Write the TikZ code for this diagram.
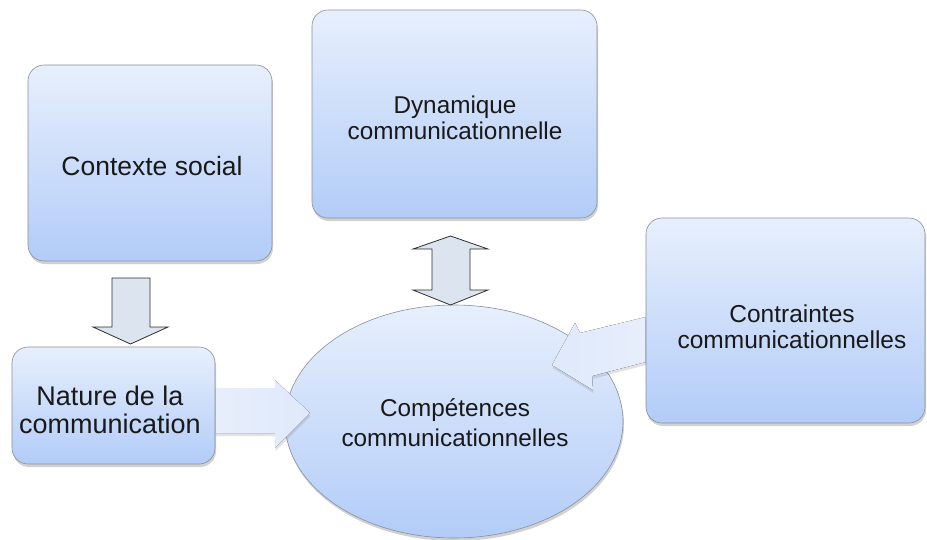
\documentclass[tikz,border=0pt]{standalone}
\usepackage{fontspec}
\setmainfont{Liberation Sans}
\usetikzlibrary{shapes.geometric,shadows}
\definecolor{boxtop}{HTML}{E7EFFC}
\definecolor{boxbot}{HTML}{B2CCF8}
\definecolor{boxline}{HTML}{8A8F99}
\definecolor{arrfill}{HTML}{DCE4EF}
\definecolor{arrline}{HTML}{2E2E2E}
\definecolor{fadefill}{HTML}{DFE9FB}
\begin{document}
\begin{tikzpicture}[x=1pt,y=-1pt,
  panel/.style={draw=boxline, line width=0.6pt, top color=boxtop, bottom color=boxbot,
    drop shadow={shadow xshift=1pt, shadow yshift=-3pt, opacity=0.3, fill=black!60}},
  box/.style={panel, rectangle, rounded corners=16pt, inner sep=0pt},
  lbl/.style={align=center, text=black!90, inner sep=0pt},
  blockarrow/.style={draw=arrline, line width=0.8pt, fill=arrfill, line join=miter},
  fadearrow/.style={drop shadow={shadow xshift=0.5pt, shadow yshift=-3pt, opacity=0.18, fill=black!60}}]
\useasboundingbox (0,0) rectangle (927,539);

% ellipse
\node[panel, ellipse, minimum width=338pt, minimum height=233pt, inner sep=0pt] (comp) at (454,421.5) {};
\node[lbl, font=\fontsize{24.3}{30}\selectfont] (compt) at (455,423) {Compétences\\communicationnelles};

% boxes
\node[box, minimum width=244pt, minimum height=196pt] (ctx) at (150,163) {};
\node[lbl, font=\fontsize{26.5}{29}\selectfont] (ctxt) at (152,166) {Contexte social};

\node[box, minimum width=285pt, minimum height=208pt] (dyn) at (454.5,114) {};
\node[lbl, font=\fontsize{24.3}{26}\selectfont] (dynt) at (455,118) {Dynamique\\communicationnelle};

\node[box, minimum width=203pt, minimum height=117pt] (nat) at (113.5,405.5) {};
\node[lbl, font=\fontsize{27}{28}\selectfont] (natt) at (110,410) {Nature de la\\communication};

\node[box, minimum width=279pt, minimum height=205pt] (ctr) at (785.5,320.5) {};
\node[lbl, font=\fontsize{24.5}{26}\selectfont] (ctrt) at (792,327) {Contraintes\\communicationnelles};

% block arrows
\draw[blockarrow] (112,278) -- (150,278) -- (150,327) -- (168,327) -- (130.5,344)
  -- (93,327) -- (112,327) -- cycle;
\draw[blockarrow] (450.5,236) -- (488,249) -- (470,249) -- (470,290) -- (488,290)
  -- (450.5,305) -- (413,290) -- (432,290) -- (432,249) -- (413,249) -- cycle;

% faded arrows
\fill[fadearrow, left color=fadefill!75!white, right color=fadefill]
  (nat.east |- 0,388) -- (275,388) -- (275,380) -- (310,413) -- (275,448)
  -- (275,433) -- (nat.east |- 0,433) -- cycle;
\fill[fadearrow, left color=fadefill, right color=fadefill!75!white]
  (ctr.west |- 0,317) -- (580,333) -- (575,323) -- (552,365) -- (593,390)
  -- (592,376) -- (ctr.west |- 0,362) -- cycle;
\end{tikzpicture}
\end{document}
